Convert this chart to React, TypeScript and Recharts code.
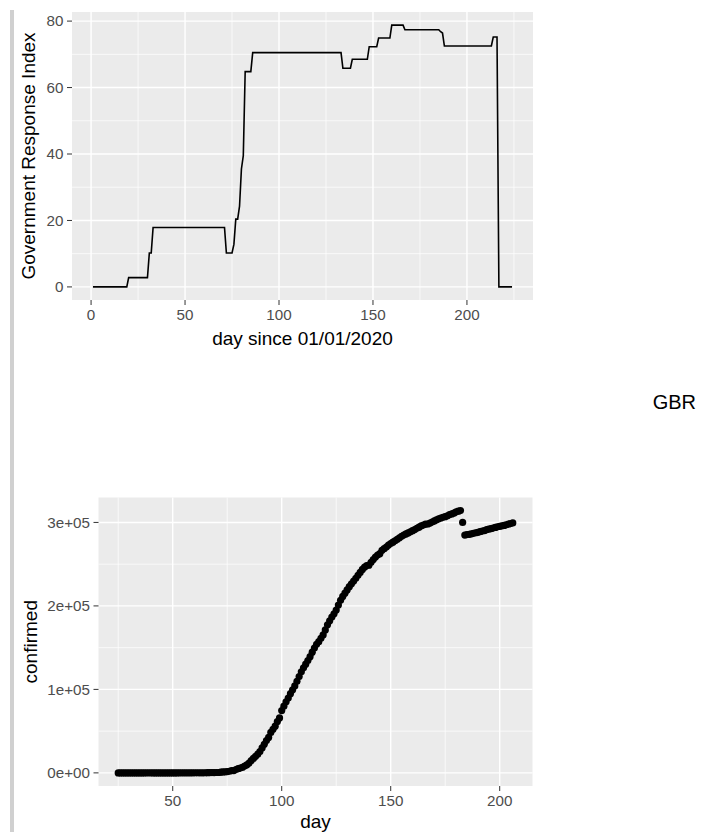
import React from 'react';
import { LineChart, Line, ScatterChart, Scatter, XAxis, YAxis, CartesianGrid } from 'recharts';

// Government response index: corners of the daily series (day since 01/01/2020)
const govDays = [1, 19, 20, 30, 31, 32, 33, 71, 72, 75, 76, 77, 78, 79, 80, 81, 82, 85, 86, 133, 134, 138, 139, 147, 148, 152, 153, 159, 160, 166, 167, 185, 186, 187, 188, 213, 214, 216, 217, 224];
const govIndex = [0, 0, 2.8, 2.8, 10.2, 10.2, 17.9, 17.9, 10.2, 10.2, 12.8, 20.4, 20.4, 24.3, 35.5, 39.5, 64.8, 64.8, 70.5, 70.5, 65.8, 65.8, 68.5, 68.5, 72.3, 72.3, 74.9, 74.9, 78.8, 78.8, 77.4, 77.4, 76.8, 76.4, 72.5, 72.5, 75.2, 75.2, 0, 0];

const govXTicks = [0, 50, 100, 150, 200];
const govXMinor = [25, 75, 125, 175, 225];
const govYTicks = [0, 20, 40, 60, 80];
const govYMinor = [10, 30, 50, 70];

// GBR confirmed cases, one value per day starting at day 25
const confirmedFirstDay = 25;
const confirmedJanFeb = [0, 0, 0, 0, 0, 2, 2, 2, 2, 2, 2, 2, 2, 3, 8, 8, 9, 9, 9, 9, 9, 9, 9, 9, 9, 9, 9, 9, 13, 13, 13, 15, 20, 23, 23];
const confirmedMar = [36, 40, 51, 86, 116, 164, 207, 274, 322, 384, 459, 459, 802, 1144, 1145, 1551, 1960, 2642, 2716, 4014, 5067, 5745, 6726, 8164, 9640, 11812, 14745, 17312, 19780, 22453, 25481];
const confirmedApr = [29865, 34173, 38689, 42477, 48436, 52279, 55949, 61474, 65872, 74605, 79874, 85206, 89570, 94845, 99483, 104145, 109769, 115314, 121172, 125856, 130172, 134638, 139246, 144640, 149569, 154037, 157149, 161145, 165221, 171253];
const confirmedMay = [177454, 182260, 186599, 190584, 194990, 201101, 206715, 211364, 215260, 219183, 223060, 226463, 229705, 233151, 236711, 240161, 243695, 246406, 248293, 248818, 252246, 255544, 258504, 260916, 262547, 266599, 268619, 270508, 272826, 274762, 276332];
const confirmedJun = [277985, 279856, 281661, 283311, 284868, 286294, 287399, 288834, 290143, 291409, 292950, 294375, 295889, 296857, 297914, 298136, 299251, 300469, 301815, 303110, 304331, 305289, 306210, 306862, 307980, 309360, 310250, 311151, 312654, 313483];
const confirmedJul = [314160, 300000, 284900, 285416, 285768, 286349, 286979, 287621, 288133, 288953, 289603, 290133, 291373, 291911, 292552, 293239, 294066, 294792, 295372, 295817, 296377, 297146, 297914, 298681, 299426];

const caseXTicks = [50, 100, 150, 200];
const caseXMinor = [25, 75, 125, 175];
const caseYTicks = [0, 100000, 200000, 300000];
const caseYMinor = [50000, 150000, 250000];

const govData = govDays.map((day, i) => ({ day, index: govIndex[i] }));
const confirmedValues = [...confirmedJanFeb, ...confirmedMar, ...confirmedApr, ...confirmedMay, ...confirmedJun, ...confirmedJul];
const confirmedData = confirmedValues.map((confirmed, i) => ({ day: confirmedFirstDay + i, confirmed }));

const FONT = '"Liberation Sans", Arial, Helvetica, sans-serif';
const tickStyle = { fill: '#4D4D4D', fontSize: 15.2, fontFamily: FONT };
const PANEL = '#EBEBEB';

const sci = (v: number) => (v === 0 ? '0e+00' : `${v / 100000}e+05`);

const xTitle = (text: string, offset: number) => (props: any) => {
  const vb = props.viewBox;
  return (
    <text x={vb.x + vb.width / 2} y={vb.y + offset} textAnchor="middle" fill="#000" fontSize={19} fontFamily={FONT}>
      {text}
    </text>
  );
};

const yTitle = (text: string, baseX: number) => (props: any) => {
  const vb = props.viewBox;
  const cy = vb.y + vb.height / 2;
  return (
    <text x={baseX} y={cy} transform={`rotate(-90 ${baseX} ${cy})`} textAnchor="middle" fill="#000" fontSize={19} fontFamily={FONT}>
      {text}
    </text>
  );
};

const Dot = (p: any) => <circle cx={p.cx} cy={p.cy} r={3.6} fill="#000" />;

export default function App() {
  return (
    <div style={{ position: 'absolute', left: 0, top: 0, width: 723, height: 832, background: '#fff', fontFamily: FONT }}>
      <div style={{ position: 'absolute', left: 10, top: 10, width: 4, height: 822, background: '#d0d0d0' }} />

      <div style={{ position: 'absolute', left: 0, top: 0 }}>
        <LineChart width={723} height={360} data={govData} margin={{ top: 12, right: 190, left: 12, bottom: 15 }}>
          <CartesianGrid fill={PANEL} stroke="#fff" strokeWidth={1.4} horizontalValues={govYTicks} verticalValues={govXTicks} />
          <CartesianGrid stroke="#fff" strokeWidth={0.7} horizontalValues={govYMinor} verticalValues={govXMinor} />
          <XAxis
            type="number"
            dataKey="day"
            domain={[-10.15, 235.15]}
            allowDataOverflow
            ticks={govXTicks}
            interval={0}
            height={45}
            axisLine={false}
            tickLine={{ stroke: '#333333' }}
            tickSize={5}
            tickMargin={4}
            tick={tickStyle}
            label={xTitle('day since 01/01/2020', 45)}
          />
          <YAxis
            type="number"
            domain={[-3.94, 82.74]}
            allowDataOverflow
            ticks={govYTicks}
            interval={0}
            width={60}
            axisLine={false}
            tickLine={{ stroke: '#333333' }}
            tickSize={5}
            tickMargin={3.5}
            tick={tickStyle}
            label={yTitle('Government Response Index', 35)}
          />
          <Line type="linear" dataKey="index" stroke="#000" strokeWidth={1.6} dot={false} isAnimationActive={false} />
        </LineChart>
      </div>

      <div style={{ position: 'absolute', left: 652.7, top: 392, fontSize: 20, lineHeight: '20px', color: '#000' }}>GBR</div>

      <div style={{ position: 'absolute', left: 0, top: 450 }}>
        <ScatterChart width={723} height={382} margin={{ top: 47.5, right: 190.5, left: 18.5, bottom: 6 }}>
          <CartesianGrid fill={PANEL} stroke="#fff" strokeWidth={1.4} horizontalValues={caseYTicks} verticalValues={caseXTicks} />
          <CartesianGrid stroke="#fff" strokeWidth={0.7} horizontalValues={caseYMinor} verticalValues={caseXMinor} />
          <XAxis
            type="number"
            dataKey="day"
            domain={[15.95, 215.05]}
            allowDataOverflow
            ticks={caseXTicks}
            interval={0}
            height={40}
            axisLine={false}
            tickLine={{ stroke: '#333333' }}
            tickSize={5}
            tickMargin={4}
            tick={tickStyle}
            label={xTitle('day', 41.5)}
          />
          <YAxis
            type="number"
            dataKey="confirmed"
            domain={[-15708, 329868]}
            allowDataOverflow
            ticks={caseYTicks}
            interval={0}
            width={80}
            axisLine={false}
            tickLine={{ stroke: '#333333' }}
            tickSize={5}
            tickMargin={3.5}
            tick={tickStyle}
            tickFormatter={sci}
            label={yTitle('confirmed', 37)}
          />
          <Scatter data={confirmedData} fill="#000" shape={Dot} isAnimationActive={false} />
        </ScatterChart>
      </div>
    </div>
  );
}
